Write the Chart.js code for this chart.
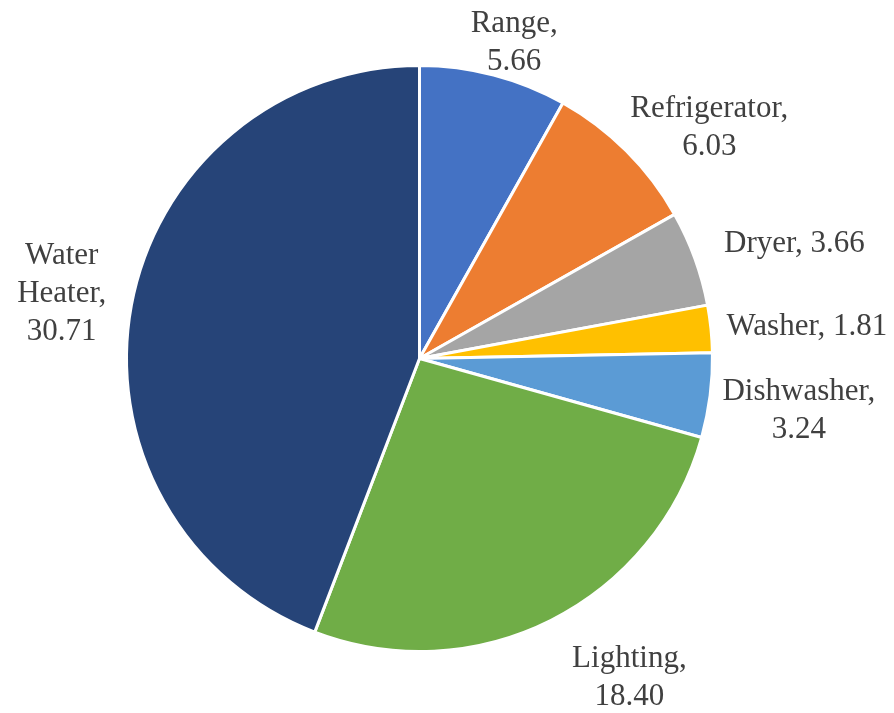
<!DOCTYPE html>
<html>
<head>
<meta charset="utf-8">
<script src="https://cdn.jsdelivr.net/npm/chart.js@4.4.0/dist/chart.umd.min.js"></script>
<style>
  html, body { margin: 0; padding: 0; background: #ffffff; }
  #wrap { width: 894px; height: 713px; position: relative; }
</style>
</head>
<body>
<div id="wrap"><canvas id="myChart" width="894" height="713"></canvas></div>
<script>
const categories = ['Range', 'Refrigerator', 'Dryer', 'Washer', 'Dishwasher', 'Lighting', 'Water Heater'];
const values = [5.66, 6.03, 3.66, 1.81, 3.24, 18.40, 30.71];
const sliceColors = ['#4472C4', '#ED7D31', '#A5A5A5', '#FFC000', '#5B9BD5', '#70AD47', '#264478'];

// label text, split into lines the way the picture wraps them
const labelLines = [
    ['Range,', '5.66'],
    ['Refrigerator,', '6.03'],
    ['Dryer, 3.66'],
    ['Washer, 1.81'],
    ['Dishwasher,', '3.24'],
    ['Lighting,', '18.40'],
    ['Water', 'Heater,', '30.71']
];

// small nudges for the "best fit" placement
const labelShift = [[7, 14], [20, 11], [24, -5], [6, 1], [3, 9], [48, 15], [-16, 1]];

const labelFont = '31px "Liberation Serif"';
const lineHeight = 38;

const outsideLabels = {
    id: 'outsideLabels',
    afterDraw(chart) {
        const ctx = chart.ctx;
        const arcs = chart.getDatasetMeta(0).data;
        ctx.save();
        ctx.font = labelFont;
        ctx.fillStyle = '#404040';
        ctx.textAlign = 'center';
        ctx.textBaseline = 'middle';
        arcs.forEach((arc, i) => {
            const p = arc.getProps(['x', 'y', 'startAngle', 'endAngle', 'outerRadius'], true);
            const mid = (p.startAngle + p.endAngle) / 2;
            const dx = Math.cos(mid);
            const dy = Math.sin(mid);
            const lines = labelLines[i];
            const w = Math.max(...lines.map(l => ctx.measureText(l).width));
            const h = lines.length * lineHeight;
            const r = p.outerRadius + 10;
            const cx = p.x + dx * r + dx * w / 2 + labelShift[i][0];
            const cy = p.y + dy * r + dy * h / 2 + labelShift[i][1];
            lines.forEach((line, j) => {
                ctx.fillText(line, cx, cy - h / 2 + lineHeight * (j + 0.5));
            });
        });
        ctx.restore();
    }
};

function drawChart() {
    const canvas = document.getElementById('myChart');
    new Chart(canvas, {
        type: 'pie',
        data: {
            labels: categories,
            datasets: [{
                data: values,
                backgroundColor: sliceColors,
                borderColor: '#ffffff',
                borderWidth: 3
            }]
        },
        options: {
            responsive: false,
            animation: false,
            layout: {
                padding: { left: 125, right: 180, top: 64, bottom: 60 }
            },
            plugins: {
                legend: { display: false },
                tooltip: { enabled: false }
            }
        },
        plugins: [outsideLabels]
    });
}

document.fonts.load(labelFont).then(drawChart, drawChart);
</script>
</body>
</html>
